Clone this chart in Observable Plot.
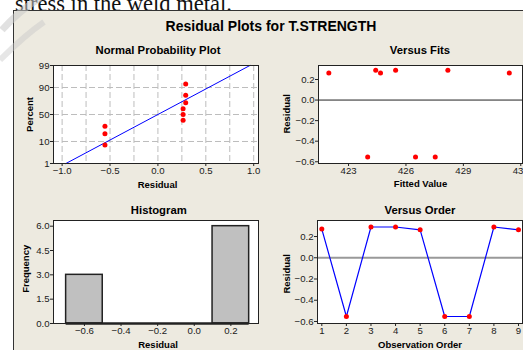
<!DOCTYPE html>
<html>
<head>
<meta charset="utf-8">
<script src="https://cdn.jsdelivr.net/npm/d3@7"></script>
<script src="https://cdn.jsdelivr.net/npm/@observablehq/plot@0.6"></script>
<style>
  html, body { margin: 0; padding: 0; background: #fff; }
  #page { position: relative; width: 523px; height: 350px; overflow: hidden; background: #fff; font-family: "Liberation Sans", Arial, sans-serif; }
  #doctext { position: absolute; left: 15px; top: -9px; font-family: "Liberation Serif", serif; font-size: 22.5px; line-height: 26px; color: #111; white-space: nowrap; }
  #panel { position: absolute; left: 13px; top: 10px; width: 520px; height: 350px; background: #EDEAE0; border-left: 1px solid #333; border-top: 1px solid #333; box-sizing: border-box; }
  #maintitle { position: absolute; left: 0; width: 542px; top: 19px; text-align: center; font-weight: bold; font-size: 14px; line-height: 14px; color: #000; white-space: nowrap; }
  #watermark { position: absolute; left: 0; top: 0; }
  .sub { position: absolute; }
</style>
</head>
<body>
<div id="page">
  <div id="doctext">stress in the weld metal.</div>
  <div id="panel"></div>
  <svg id="watermark" width="60" height="90">
    <path d="M40,-2 Q20,10 2,30" fill="none" stroke="#c8c8c8" stroke-opacity="0.55" stroke-width="7"/>
    <path d="M44,22 Q25,35 0,60" fill="none" stroke="#c8c8c8" stroke-opacity="0.45" stroke-width="6"/>
  </svg>
  <div id="maintitle"></div>
</div>
<script>
// ---------- data ----------
const mainTitle = "Residual Plots for T.STRENGTH";
const panelTitles = ["Normal Probability Plot", "Versus Fits", "Histogram", "Versus Order"];

// Normal probability plot
const npResidual = [-0.553, -0.553, -0.553, 0.263, 0.263, 0.263, 0.29, 0.29, 0.29];
const npPercent = [7.4, 18.1, 28.7, 39.4, 50, 60.6, 71.3, 81.9, 92.6];
const npLineResidual = [-0.96, 0.96];
const npLinePercent = [1, 99];
const npTickPercent = [1, 10, 50, 90, 99];
const npGridPercent = [10, 50, 90];
const npTickResidual = [-1, -0.5, 0, 0.5, 1];
const npGridResidual = [-1, -0.75, -0.5, -0.25, 0, 0.25, 0.5, 0.75, 1];

// Versus fits
const fitsFitted = [421.97, 424.0, 424.42, 424.67, 425.46, 426.5, 427.53, 428.19, 431.4];
const fitsResidual = [0.263, -0.553, 0.29, 0.263, 0.29, -0.553, -0.553, 0.29, 0.263];
const fitsTickX = [423, 426, 429, 432];
const residualTicks = [-0.6, -0.4, -0.2, 0, 0.2];

// Histogram
const histBinStart = [-0.7, -0.5, -0.3, -0.1, 0.1];
const histBinEnd = [-0.5, -0.3, -0.1, 0.1, 0.3];
const histCount = [3, 0, 0, 0, 6];
const histTickX = [-0.6, -0.4, -0.2, 0, 0.2];
const histTickY = [0, 1.5, 3, 4.5, 6];

// Versus order
const orderIndex = [1, 2, 3, 4, 5, 6, 7, 8, 9];
const orderResidual = [0.27, -0.553, 0.29, 0.29, 0.263, -0.553, -0.553, 0.29, 0.263];

// ---------- helpers ----------
function probit(p) {
  const a = [-3.969683028665376e+01, 2.209460984245205e+02, -2.759285104469687e+02, 1.383577518672690e+02, -3.066479806614716e+01, 2.506628277459239e+00];
  const b = [-5.447609879822406e+01, 1.615858368580409e+02, -1.556989798598866e+02, 6.680131188771972e+01, -1.328068155288572e+01];
  const c = [-7.784894002430293e-03, -3.223964580411365e-01, -2.400758277161838e+00, -2.549732539343734e+00, 4.374664141464968e+00, 2.938163982698783e+00];
  const d = [7.784695709041462e-03, 3.224671290700398e-01, 2.445134137142996e+00, 3.754408661907416e+00];
  const pl = 0.02425, ph = 1 - pl;
  let q, r;
  if (p < pl) { q = Math.sqrt(-2 * Math.log(p)); return (((((c[0]*q+c[1])*q+c[2])*q+c[3])*q+c[4])*q+c[5]) / ((((d[0]*q+d[1])*q+d[2])*q+d[3])*q+1); }
  if (p <= ph) { q = p - 0.5; r = q*q; return (((((a[0]*r+a[1])*r+a[2])*r+a[3])*r+a[4])*r+a[5])*q / (((((b[0]*r+b[1])*r+b[2])*r+b[3])*r+b[4])*r+1); }
  q = Math.sqrt(-2 * Math.log(1 - p));
  return -(((((c[0]*q+c[1])*q+c[2])*q+c[3])*q+c[4])*q+c[5]) / ((((d[0]*q+d[1])*q+d[2])*q+d[3])*q+1);
}
const zOf = pct => probit(pct / 100);
const f1 = d3.format(".1f");
const FONT = "Liberation Sans, Arial, sans-serif";
const TICK_COLOR = "#1a1a1a";
const TICK_FS = 9.6;

document.getElementById("maintitle").textContent = mainTitle;

function place(svg, left, top) {
  const wrap = document.createElement("div");
  wrap.className = "sub";
  wrap.style.left = left + "px";
  wrap.style.top = top + "px";
  wrap.appendChild(svg);
  document.getElementById("page").appendChild(wrap);
}

function titleMark(t, dx, dy) {
  return Plot.text([t], {text: d => d, frameAnchor: "top", dx, dy, lineAnchor: "bottom", textAnchor: "middle", fontWeight: "bold", fontSize: 11.3, fill: "#000", fontFamily: FONT});
}
function xLabelMark(t, dx, dy) {
  return Plot.text([t], {text: d => d, frameAnchor: "bottom", dx, dy, lineAnchor: "bottom", textAnchor: "middle", fontWeight: "bold", fontSize: 9.5, fill: "#000", fontFamily: FONT});
}
function yLabelMark(t, dx, dy) {
  return Plot.text([t], {text: d => d, frameAnchor: "left", dx, dy, rotate: -90, lineAnchor: "bottom", textAnchor: "middle", fontWeight: "bold", fontSize: 9.5, fill: "#000", fontFamily: FONT});
}
const axisOpts = (fmt) => ({tickSize: 3, tickPadding: 1, tickFormat: fmt, fontSize: TICK_FS, label: null, stroke: "#222"});
const baseStyle = {fontFamily: FONT, fontSize: TICK_FS + "px", color: TICK_COLOR, background: "transparent", overflow: "visible"};

// ---------- Panel 1: Normal probability plot ----------
const npPoints = npResidual.map((r, i) => ({r, p: npPercent[i]}));
const npLine = npLineResidual.map((r, i) => ({r, p: npLinePercent[i]}));
const p1 = Plot.plot({
  width: 262, height: 150,
  marginLeft: 53, marginRight: 4, marginTop: 25, marginBottom: 27,
  style: baseStyle,
  x: {domain: [-1.09, 1.05], axis: null},
  y: {domain: [zOf(1), zOf(99)], axis: null},
  marks: [
    Plot.frame({fill: "white", stroke: "none"}),
    Plot.ruleX(npGridResidual, {x: d => d, stroke: "#bdbdbd", strokeDasharray: "6,3"}),
    Plot.ruleY(npGridPercent, {y: d => zOf(d), stroke: "#bdbdbd", strokeDasharray: "6,3"}),
    Plot.line(npLine, {x: "r", y: d => zOf(d.p), stroke: "#0000ff", strokeWidth: 1}),
    Plot.dot(npPoints, {x: "r", y: d => zOf(d.p), r: 2.5, fill: "#ff0000", stroke: "none"}),
    Plot.frame({stroke: "#222"}),
    Plot.axisX(npTickResidual, axisOpts(f1)),
    Plot.axisY(npTickPercent.map(zOf), axisOpts((d, i) => String(npTickPercent[i]))),
    titleMark(panelTitles[0], 2, -12),
    xLabelMark("Residual", 1.5, 24.3),
    yLabelMark("Percent", -20.7, 0)
  ]
});
place(p1, 0, 40);

// ---------- Panel 2: Versus fits ----------
const fitsPoints = fitsFitted.map((f, i) => ({f, r: fitsResidual[i]}));
const p2 = Plot.plot({
  width: 261, height: 150,
  marginLeft: 56, marginRight: 1, marginTop: 25, marginBottom: 27,
  style: baseStyle,
  x: {domain: [421.43, 432.09], axis: null},
  y: {domain: [-0.617, 0.336], axis: null},
  marks: [
    Plot.frame({fill: "white", stroke: "none"}),
    Plot.ruleY([0], {stroke: "#222", strokeWidth: 1}),
    Plot.dot(fitsPoints, {x: "f", y: "r", r: 2.5, fill: "#ff0000", stroke: "none"}),
    Plot.frame({stroke: "#222"}),
    Plot.axisX(fitsTickX, axisOpts(d3.format("d"))),
    Plot.axisY(residualTicks, axisOpts(f1)),
    titleMark(panelTitles[1], -0.5, -12),
    xLabelMark("Fitted Value", 0, 23.7),
    yLabelMark("Residual", -28.3, -0.7)
  ]
});
place(p2, 262, 40);

// ---------- Panel 3: Histogram ----------
const histBins = histCount.map((c, i) => ({x1: histBinStart[i], x2: histBinEnd[i], c}));
const p3 = Plot.plot({
  width: 262, height: 160,
  marginLeft: 53, marginRight: 4, marginTop: 30, marginBottom: 27,
  style: baseStyle,
  x: {domain: [-0.769, 0.351], axis: null},
  y: {domain: [0, 6.35], axis: null},
  marks: [
    Plot.frame({fill: "white", stroke: "none"}),
    Plot.rectY(histBins, {x1: "x1", x2: "x2", y: "c", fill: "#c0c0c0", stroke: "#222", strokeWidth: 1.5, insetLeft: 0, insetRight: 0}),
    Plot.ruleY([0], {x1: histBinStart[0], x2: histBinEnd[histBinEnd.length - 1], stroke: "#222", strokeWidth: 2.5}),
    Plot.frame({stroke: "#222"}),
    Plot.axisX(histTickX, axisOpts(f1)),
    Plot.axisY(histTickY, axisOpts(f1)),
    titleMark(panelTitles[2], 2.8, -6.7),
    xLabelMark("Residual", 2, 24.3),
    yLabelMark("Frequency", -24.5, -3.2)
  ]
});
place(p3, 0, 190);

// ---------- Panel 4: Versus order ----------
const orderPoints = orderIndex.map((o, i) => ({o, r: orderResidual[i]}));
const p4 = Plot.plot({
  width: 261, height: 160,
  marginLeft: 55, marginRight: 1, marginTop: 30, marginBottom: 27,
  style: baseStyle,
  x: {domain: [0.825, 9.163], axis: null},
  y: {domain: [-0.619, 0.351], axis: null},
  marks: [
    Plot.frame({fill: "white", stroke: "none"}),
    Plot.ruleY([0], {stroke: "#999", strokeWidth: 2}),
    Plot.line(orderPoints, {x: "o", y: "r", stroke: "#0000ff", strokeWidth: 1.2}),
    Plot.dot(orderPoints, {x: "o", y: "r", r: 2.5, fill: "#ff0000", stroke: "none"}),
    Plot.frame({stroke: "#222"}),
    Plot.axisX(orderIndex, axisOpts(d3.format("d"))),
    Plot.axisY(residualTicks, axisOpts(f1)),
    titleMark(panelTitles[3], 0, -6.7),
    xLabelMark("Observation Order", 0, 24.3),
    yLabelMark("Residual", -27.3, 1.8)
  ]
});
place(p4, 262, 190);
</script>
</body>
</html>
